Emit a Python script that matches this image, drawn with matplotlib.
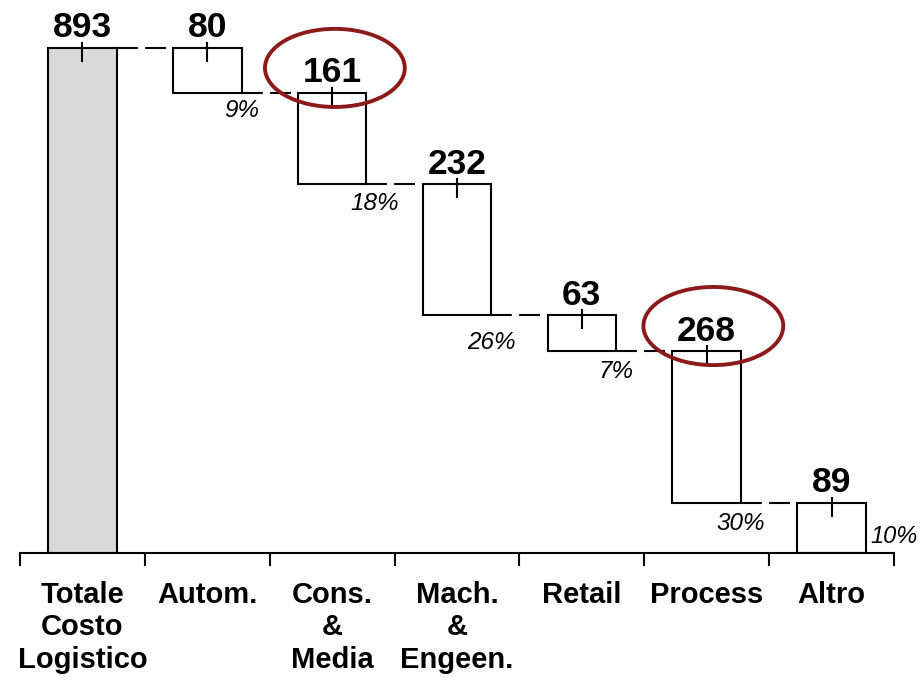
import matplotlib
matplotlib.use("Agg")
import matplotlib.pyplot as plt
from matplotlib.patches import Ellipse

# data
categories = ['Totale\nCosto\nLogistico', 'Autom.', 'Cons.\n&\nMedia',
              'Mach.\n&\nEngeen.', 'Retail', 'Process', 'Altro']
values = [893, 80, 161, 232, 63, 268, 89]
pct_labels = ['9%', '18%', '26%', '7%', '30%', '10%']
circled = [2, 5]

plt.rcParams['font.family'] = ['Liberation Sans', 'DejaVu Sans']

# waterfall bottoms / tops
bottoms = [0]
tops = [values[0]]
running = values[0]
for v in values[1:]:
    tops.append(running)
    bottoms.append(running - v)
    running -= v

fig = plt.figure(figsize=(9.21, 6.78), dpi=100)
ax = fig.add_axes([20/921, 125/678, 874/921, 553/678])
ax.set_xlim(-0.5, 6.5)
ax.set_ylim(0, 977)

x = list(range(len(values)))
w = 0.55
colors = ['#d9d9d9'] + ['white'] * (len(values) - 1)
ax.bar(x, values, bottom=bottoms, width=w, color=colors,
       edgecolor='black', linewidth=1.5, zorder=2)

# little vertical marks on top of each bar
ax.vlines(x, [t - 25 for t in tops], [t + 10.5 for t in tops],
          color='black', linewidth=1.5, zorder=3)

# value labels
for i, v in enumerate(values):
    ax.annotate(str(v), (i, tops[i]), xytext=(0, 7.5), textcoords='offset points',
                ha='center', va='baseline', fontsize=25.5, fontweight='bold')

# dashed connectors
for i in range(len(values) - 1):
    ax.plot([i + w/2, i + 1 - w/2], [tops[i + 1], tops[i + 1]],
            color='black', linewidth=1.5, linestyle=(0, (10, 3.5)), zorder=1)

# percent labels
pct_dx = [0, 6, 0, 0, 0]
pct_dy = [-17.5, -18.5, -24.5, -19.5, -19.5]
for k, lab in enumerate(pct_labels[:-1]):
    i = k + 1
    ax.annotate(lab, (i + w/2, bottoms[i]), xytext=(pct_dx[k], pct_dy[k]),
                textcoords='offset points', ha='center', va='baseline',
                fontsize=17.5, fontstyle='italic', annotation_clip=False)
ax.annotate(pct_labels[-1], (len(values) - 1 + w/2, 0), xytext=(3.5, 7.2),
            textcoords='offset points', ha='left', va='baseline',
            fontsize=17, fontstyle='italic', annotation_clip=False)

# red ellipses around highlighted values
for i, dx in zip(circled, [0.022, 0.053]):
    ax.add_patch(Ellipse((i + dx, tops[i] + 44), 1.12, 138, fill=False,
                         edgecolor='#8c1a1a', linewidth=2.8, clip_on=False, zorder=4))

for s in ['top', 'left', 'right']:
    ax.spines[s].set_visible(False)
ax.spines['bottom'].set_linewidth(1.5)
ax.set_yticks([])
ax.set_xticks(x)
ax.set_xticklabels(categories, fontsize=21, fontweight='bold', linespacing=1.2)
ax.set_xticks([i - 0.5 for i in range(len(values) + 1)], minor=True)
ax.tick_params(axis='x', which='major', length=0, pad=20)
ax.tick_params(axis='x', which='minor', length=9, width=1.5, direction='out')

fig.savefig('out.png', dpi=100)
